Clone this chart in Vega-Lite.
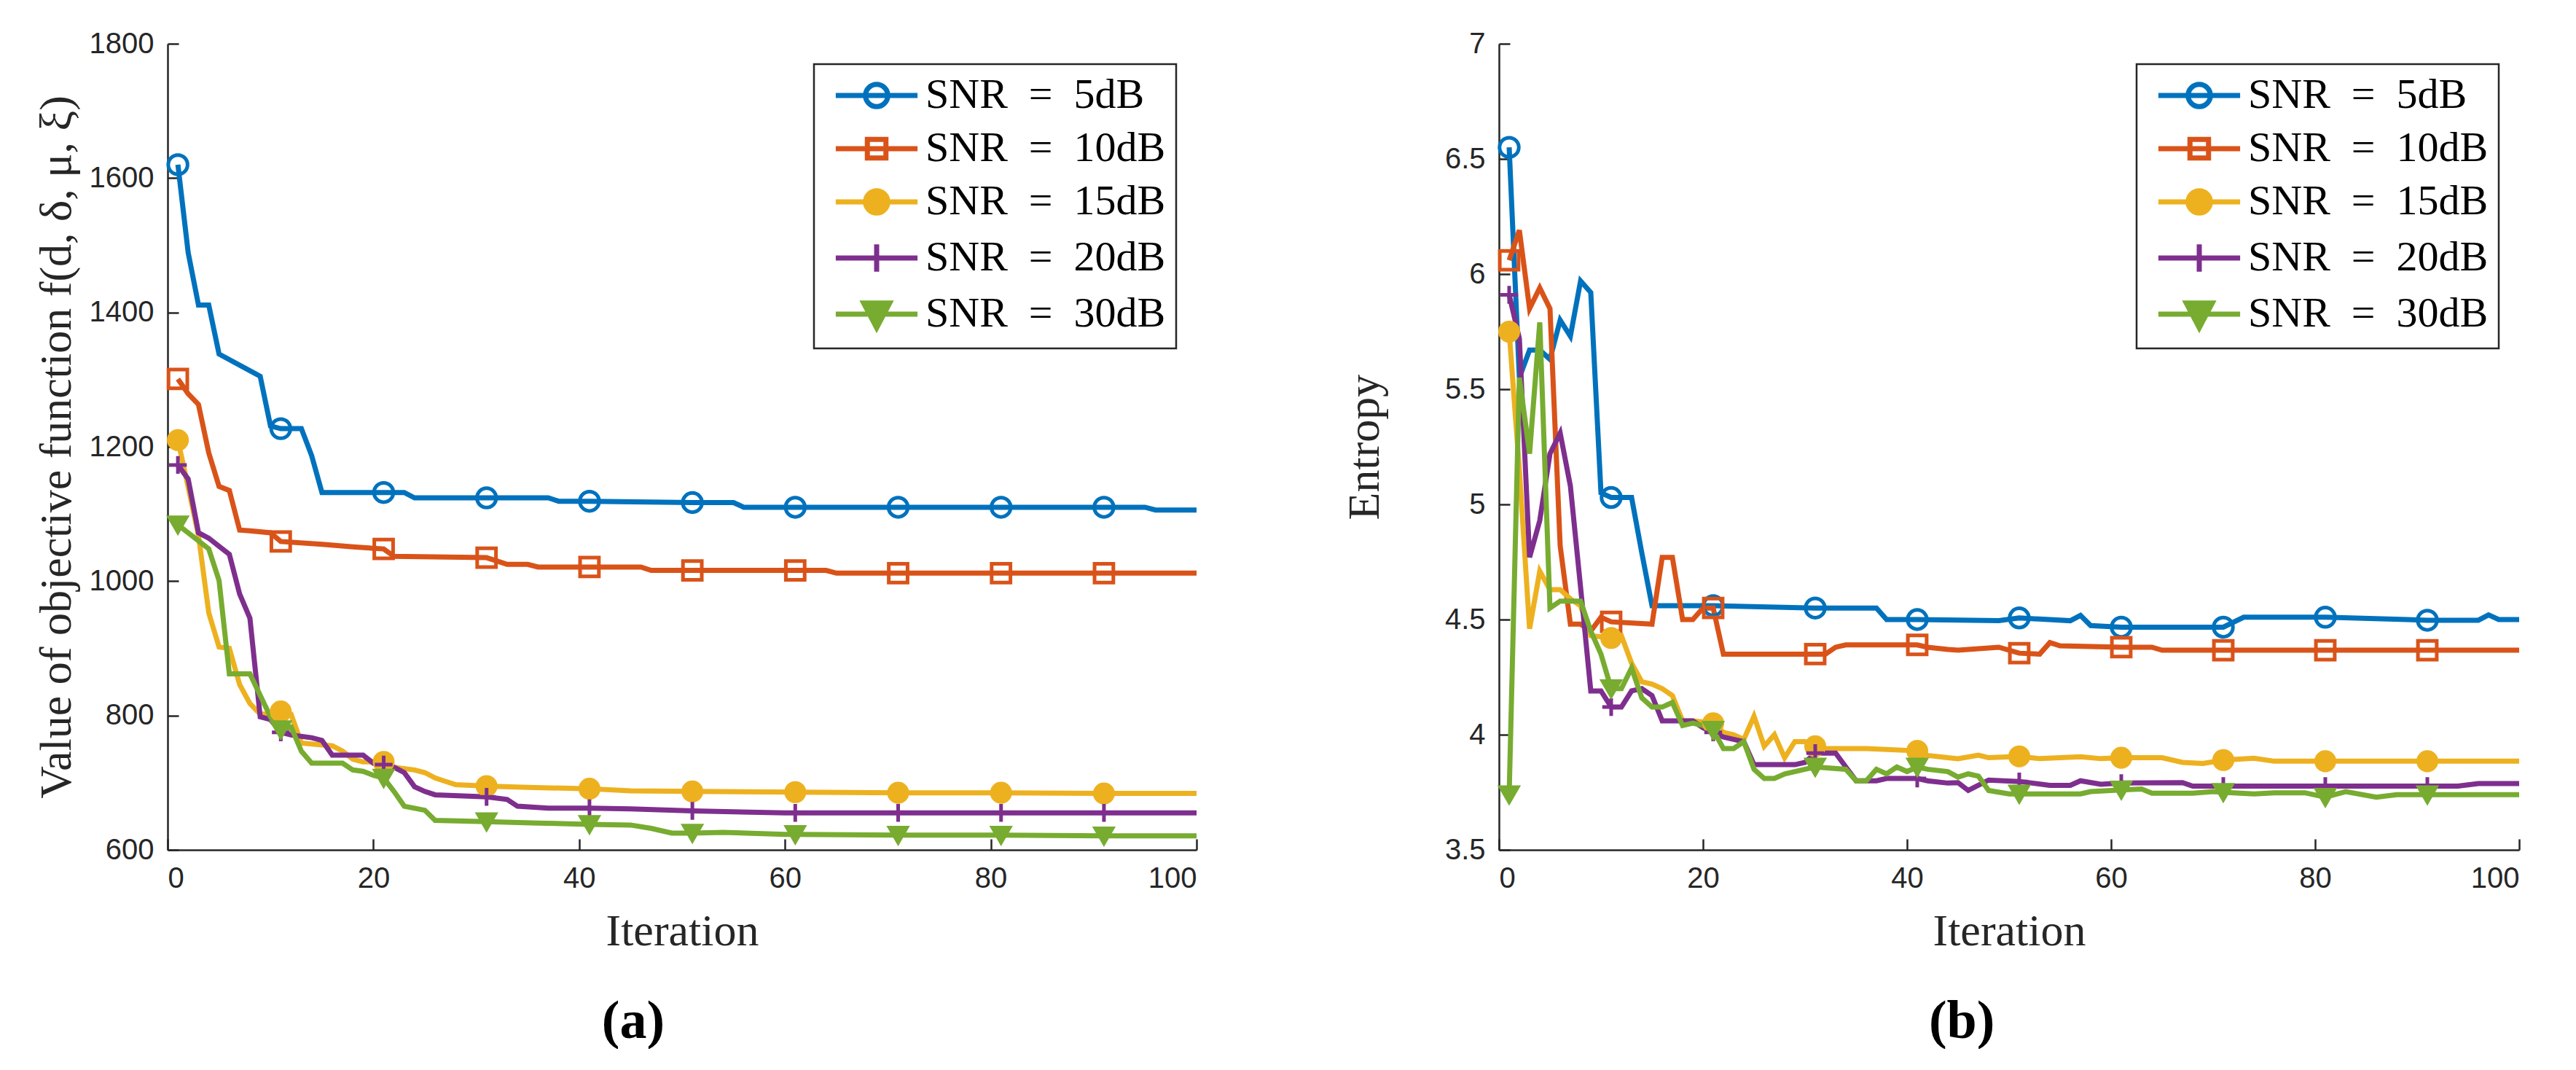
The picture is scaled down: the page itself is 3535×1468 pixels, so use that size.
{
  "$schema": "https://vega.github.io/schema/vega-lite/v6.json",
  "background": "white",
  "padding": {"left": 46, "top": 40, "right": 0, "bottom": 0},
  "datasets": {
    "a": [
      {"s":"5dB","i":1,"v":1620},{"s":"5dB","i":2,"v":1489},{"s":"5dB","i":3,"v":1411},{"s":"5dB","i":4,"v":1411},{"s":"5dB","i":5,"v":1338},{"s":"5dB","i":9,"v":1305},{"s":"5dB","i":10,"v":1231},{"s":"5dB","i":11,"v":1227},{"s":"5dB","i":13,"v":1227},{"s":"5dB","i":14,"v":1187},{"s":"5dB","i":15,"v":1132},{"s":"5dB","i":21,"v":1132},{"s":"5dB","i":23,"v":1132},{"s":"5dB","i":24,"v":1124},{"s":"5dB","i":31,"v":1124},{"s":"5dB","i":37,"v":1124},{"s":"5dB","i":38,"v":1119},{"s":"5dB","i":41,"v":1119},{"s":"5dB","i":51,"v":1117},{"s":"5dB","i":55,"v":1117},{"s":"5dB","i":56,"v":1110},{"s":"5dB","i":61,"v":1110},{"s":"5dB","i":71,"v":1110},{"s":"5dB","i":81,"v":1110},{"s":"5dB","i":91,"v":1110},{"s":"5dB","i":95,"v":1110},{"s":"5dB","i":96,"v":1106},{"s":"5dB","i":100,"v":1106},
      {"s":"10dB","i":1,"v":1301},{"s":"10dB","i":2,"v":1279},{"s":"10dB","i":3,"v":1263},{"s":"10dB","i":4,"v":1191},{"s":"10dB","i":5,"v":1141},{"s":"10dB","i":6,"v":1135},{"s":"10dB","i":7,"v":1076},{"s":"10dB","i":8,"v":1075},{"s":"10dB","i":10,"v":1072},{"s":"10dB","i":11,"v":1059},{"s":"10dB","i":15,"v":1055},{"s":"10dB","i":18,"v":1051},{"s":"10dB","i":21,"v":1048},{"s":"10dB","i":22,"v":1037},{"s":"10dB","i":31,"v":1035},{"s":"10dB","i":32,"v":1030},{"s":"10dB","i":33,"v":1025},{"s":"10dB","i":35,"v":1025},{"s":"10dB","i":36,"v":1021},{"s":"10dB","i":41,"v":1021},{"s":"10dB","i":46,"v":1021},{"s":"10dB","i":47,"v":1016},{"s":"10dB","i":51,"v":1016},{"s":"10dB","i":61,"v":1016},{"s":"10dB","i":64,"v":1016},{"s":"10dB","i":65,"v":1012},{"s":"10dB","i":71,"v":1012},{"s":"10dB","i":81,"v":1012},{"s":"10dB","i":91,"v":1012},{"s":"10dB","i":100,"v":1012},
      {"s":"15dB","i":1,"v":1210},{"s":"15dB","i":2,"v":1140},{"s":"15dB","i":3,"v":1068},{"s":"15dB","i":4,"v":953},{"s":"15dB","i":5,"v":902},{"s":"15dB","i":6,"v":900},{"s":"15dB","i":7,"v":846},{"s":"15dB","i":8,"v":818},{"s":"15dB","i":9,"v":802},{"s":"15dB","i":10,"v":802},{"s":"15dB","i":11,"v":806},{"s":"15dB","i":12,"v":802},{"s":"15dB","i":13,"v":759},{"s":"15dB","i":16,"v":755},{"s":"15dB","i":17,"v":747},{"s":"15dB","i":18,"v":735},{"s":"15dB","i":19,"v":731},{"s":"15dB","i":21,"v":731},{"s":"15dB","i":22,"v":723},{"s":"15dB","i":24,"v":719},{"s":"15dB","i":25,"v":715},{"s":"15dB","i":26,"v":707},{"s":"15dB","i":27,"v":702},{"s":"15dB","i":28,"v":697},{"s":"15dB","i":31,"v":695},{"s":"15dB","i":35,"v":693},{"s":"15dB","i":41,"v":691},{"s":"15dB","i":45,"v":688},{"s":"15dB","i":51,"v":687},{"s":"15dB","i":61,"v":686},{"s":"15dB","i":71,"v":685},{"s":"15dB","i":81,"v":685},{"s":"15dB","i":91,"v":684},{"s":"15dB","i":100,"v":684},
      {"s":"20dB","i":1,"v":1173},{"s":"20dB","i":2,"v":1152},{"s":"20dB","i":3,"v":1072},{"s":"20dB","i":4,"v":1064},{"s":"20dB","i":5,"v":1052},{"s":"20dB","i":6,"v":1040},{"s":"20dB","i":7,"v":981},{"s":"20dB","i":8,"v":945},{"s":"20dB","i":9,"v":798},{"s":"20dB","i":10,"v":794},{"s":"20dB","i":11,"v":775},{"s":"20dB","i":12,"v":771},{"s":"20dB","i":14,"v":767},{"s":"20dB","i":15,"v":763},{"s":"20dB","i":16,"v":741},{"s":"20dB","i":19,"v":741},{"s":"20dB","i":20,"v":729},{"s":"20dB","i":21,"v":727},{"s":"20dB","i":22,"v":723},{"s":"20dB","i":23,"v":715},{"s":"20dB","i":24,"v":694},{"s":"20dB","i":25,"v":687},{"s":"20dB","i":26,"v":682},{"s":"20dB","i":31,"v":679},{"s":"20dB","i":33,"v":675},{"s":"20dB","i":34,"v":665},{"s":"20dB","i":37,"v":662},{"s":"20dB","i":41,"v":662},{"s":"20dB","i":45,"v":661},{"s":"20dB","i":51,"v":658},{"s":"20dB","i":60,"v":655},{"s":"20dB","i":61,"v":655},{"s":"20dB","i":71,"v":655},{"s":"20dB","i":81,"v":655},{"s":"20dB","i":91,"v":655},{"s":"20dB","i":100,"v":655},
      {"s":"30dB","i":1,"v":1084},{"s":"30dB","i":2,"v":1072},{"s":"30dB","i":3,"v":1060},{"s":"30dB","i":4,"v":1048},{"s":"30dB","i":5,"v":1001},{"s":"30dB","i":6,"v":862},{"s":"30dB","i":8,"v":862},{"s":"30dB","i":9,"v":830},{"s":"30dB","i":10,"v":798},{"s":"30dB","i":11,"v":779},{"s":"30dB","i":12,"v":783},{"s":"30dB","i":13,"v":747},{"s":"30dB","i":14,"v":729},{"s":"30dB","i":17,"v":729},{"s":"30dB","i":18,"v":719},{"s":"30dB","i":19,"v":717},{"s":"30dB","i":20,"v":711},{"s":"30dB","i":21,"v":707},{"s":"30dB","i":22,"v":687},{"s":"30dB","i":23,"v":665},{"s":"30dB","i":24,"v":662},{"s":"30dB","i":25,"v":659},{"s":"30dB","i":26,"v":644},{"s":"30dB","i":31,"v":642},{"s":"30dB","i":36,"v":640},{"s":"30dB","i":41,"v":638},{"s":"30dB","i":45,"v":637},{"s":"30dB","i":47,"v":632},{"s":"30dB","i":49,"v":625},{"s":"30dB","i":51,"v":625},{"s":"30dB","i":54,"v":626},{"s":"30dB","i":60,"v":623},{"s":"30dB","i":61,"v":623},{"s":"30dB","i":71,"v":622},{"s":"30dB","i":81,"v":622},{"s":"30dB","i":91,"v":621},{"s":"30dB","i":100,"v":621}
    ],
    "b": [
      {"s":"5dB","i":1,"v":6.55},{"s":"5dB","i":2,"v":5.55},{"s":"5dB","i":3,"v":5.67},{"s":"5dB","i":4,"v":5.67},{"s":"5dB","i":5,"v":5.63},{"s":"5dB","i":6,"v":5.8},{"s":"5dB","i":7,"v":5.73},{"s":"5dB","i":8,"v":5.97},{"s":"5dB","i":9,"v":5.92},{"s":"5dB","i":10,"v":5.05},{"s":"5dB","i":11,"v":5.03},{"s":"5dB","i":13,"v":5.03},{"s":"5dB","i":14,"v":4.79},{"s":"5dB","i":15,"v":4.56},{"s":"5dB","i":21,"v":4.56},{"s":"5dB","i":31,"v":4.55},{"s":"5dB","i":37,"v":4.55},{"s":"5dB","i":38,"v":4.5},{"s":"5dB","i":41,"v":4.5},{"s":"5dB","i":49,"v":4.495},{"s":"5dB","i":51,"v":4.507},{"s":"5dB","i":56,"v":4.495},{"s":"5dB","i":57,"v":4.518},{"s":"5dB","i":58,"v":4.474},{"s":"5dB","i":61,"v":4.467},{"s":"5dB","i":71,"v":4.467},{"s":"5dB","i":73,"v":4.51},{"s":"5dB","i":81,"v":4.51},{"s":"5dB","i":89,"v":4.5},{"s":"5dB","i":91,"v":4.497},{"s":"5dB","i":96,"v":4.497},{"s":"5dB","i":97,"v":4.52},{"s":"5dB","i":98,"v":4.5},{"s":"5dB","i":100,"v":4.5},
      {"s":"10dB","i":1,"v":6.06},{"s":"10dB","i":2,"v":6.19},{"s":"10dB","i":3,"v":5.85},{"s":"10dB","i":4,"v":5.94},{"s":"10dB","i":5,"v":5.85},{"s":"10dB","i":6,"v":4.82},{"s":"10dB","i":7,"v":4.48},{"s":"10dB","i":8,"v":4.48},{"s":"10dB","i":9,"v":4.45},{"s":"10dB","i":10,"v":4.51},{"s":"10dB","i":11,"v":4.49},{"s":"10dB","i":15,"v":4.48},{"s":"10dB","i":16,"v":4.77},{"s":"10dB","i":17,"v":4.77},{"s":"10dB","i":18,"v":4.5},{"s":"10dB","i":19,"v":4.5},{"s":"10dB","i":20,"v":4.55},{"s":"10dB","i":21,"v":4.55},{"s":"10dB","i":22,"v":4.35},{"s":"10dB","i":31,"v":4.35},{"s":"10dB","i":32,"v":4.35},{"s":"10dB","i":33,"v":4.38},{"s":"10dB","i":34,"v":4.39},{"s":"10dB","i":41,"v":4.39},{"s":"10dB","i":42,"v":4.38},{"s":"10dB","i":44,"v":4.37},{"s":"10dB","i":45,"v":4.367},{"s":"10dB","i":49,"v":4.38},{"s":"10dB","i":51,"v":4.354},{"s":"10dB","i":53,"v":4.35},{"s":"10dB","i":54,"v":4.4},{"s":"10dB","i":55,"v":4.386},{"s":"10dB","i":61,"v":4.38},{"s":"10dB","i":64,"v":4.38},{"s":"10dB","i":65,"v":4.367},{"s":"10dB","i":71,"v":4.367},{"s":"10dB","i":81,"v":4.367},{"s":"10dB","i":91,"v":4.367},{"s":"10dB","i":100,"v":4.367},
      {"s":"15dB","i":1,"v":5.75},{"s":"15dB","i":2,"v":5.15},{"s":"15dB","i":3,"v":4.46},{"s":"15dB","i":4,"v":4.71},{"s":"15dB","i":5,"v":4.63},{"s":"15dB","i":6,"v":4.63},{"s":"15dB","i":7,"v":4.59},{"s":"15dB","i":8,"v":4.56},{"s":"15dB","i":9,"v":4.43},{"s":"15dB","i":11,"v":4.42},{"s":"15dB","i":12,"v":4.43},{"s":"15dB","i":13,"v":4.31},{"s":"15dB","i":14,"v":4.23},{"s":"15dB","i":15,"v":4.22},{"s":"15dB","i":16,"v":4.2},{"s":"15dB","i":17,"v":4.17},{"s":"15dB","i":18,"v":4.06},{"s":"15dB","i":19,"v":4.06},{"s":"15dB","i":21,"v":4.05},{"s":"15dB","i":22,"v":4.01},{"s":"15dB","i":23,"v":4.0},{"s":"15dB","i":24,"v":3.98},{"s":"15dB","i":25,"v":4.08},{"s":"15dB","i":26,"v":3.95},{"s":"15dB","i":27,"v":4.0},{"s":"15dB","i":28,"v":3.9},{"s":"15dB","i":29,"v":3.97},{"s":"15dB","i":30,"v":3.97},{"s":"15dB","i":31,"v":3.95},{"s":"15dB","i":32,"v":3.94},{"s":"15dB","i":36,"v":3.94},{"s":"15dB","i":41,"v":3.93},{"s":"15dB","i":42,"v":3.91},{"s":"15dB","i":44,"v":3.9},{"s":"15dB","i":45,"v":3.896},{"s":"15dB","i":47,"v":3.911},{"s":"15dB","i":48,"v":3.9},{"s":"15dB","i":51,"v":3.906},{"s":"15dB","i":53,"v":3.896},{"s":"15dB","i":57,"v":3.904},{"s":"15dB","i":59,"v":3.896},{"s":"15dB","i":61,"v":3.9},{"s":"15dB","i":65,"v":3.9},{"s":"15dB","i":67,"v":3.88},{"s":"15dB","i":69,"v":3.875},{"s":"15dB","i":71,"v":3.89},{"s":"15dB","i":74,"v":3.898},{"s":"15dB","i":76,"v":3.885},{"s":"15dB","i":81,"v":3.885},{"s":"15dB","i":91,"v":3.885},{"s":"15dB","i":100,"v":3.885},
      {"s":"20dB","i":1,"v":5.91},{"s":"20dB","i":2,"v":5.72},{"s":"20dB","i":3,"v":4.77},{"s":"20dB","i":4,"v":4.93},{"s":"20dB","i":5,"v":5.22},{"s":"20dB","i":6,"v":5.31},{"s":"20dB","i":7,"v":5.08},{"s":"20dB","i":8,"v":4.64},{"s":"20dB","i":9,"v":4.19},{"s":"20dB","i":10,"v":4.19},{"s":"20dB","i":11,"v":4.12},{"s":"20dB","i":12,"v":4.12},{"s":"20dB","i":13,"v":4.19},{"s":"20dB","i":14,"v":4.2},{"s":"20dB","i":15,"v":4.17},{"s":"20dB","i":16,"v":4.06},{"s":"20dB","i":19,"v":4.06},{"s":"20dB","i":20,"v":4.03},{"s":"20dB","i":21,"v":4.01},{"s":"20dB","i":22,"v":3.99},{"s":"20dB","i":23,"v":3.98},{"s":"20dB","i":24,"v":3.97},{"s":"20dB","i":25,"v":3.87},{"s":"20dB","i":29,"v":3.87},{"s":"20dB","i":30,"v":3.88},{"s":"20dB","i":31,"v":3.92},{"s":"20dB","i":33,"v":3.92},{"s":"20dB","i":34,"v":3.86},{"s":"20dB","i":35,"v":3.8},{"s":"20dB","i":37,"v":3.8},{"s":"20dB","i":38,"v":3.81},{"s":"20dB","i":41,"v":3.81},{"s":"20dB","i":42,"v":3.8},{"s":"20dB","i":44,"v":3.79},{"s":"20dB","i":45,"v":3.792},{"s":"20dB","i":46,"v":3.758},{"s":"20dB","i":48,"v":3.803},{"s":"20dB","i":51,"v":3.797},{"s":"20dB","i":54,"v":3.78},{"s":"20dB","i":56,"v":3.78},{"s":"20dB","i":57,"v":3.8},{"s":"20dB","i":59,"v":3.785},{"s":"20dB","i":61,"v":3.79},{"s":"20dB","i":67,"v":3.792},{"s":"20dB","i":68,"v":3.777},{"s":"20dB","i":71,"v":3.777},{"s":"20dB","i":81,"v":3.777},{"s":"20dB","i":91,"v":3.777},{"s":"20dB","i":94,"v":3.777},{"s":"20dB","i":96,"v":3.788},{"s":"20dB","i":100,"v":3.788},
      {"s":"30dB","i":1,"v":3.74},{"s":"30dB","i":2,"v":5.55},{"s":"30dB","i":3,"v":5.22},{"s":"30dB","i":4,"v":5.79},{"s":"30dB","i":5,"v":4.55},{"s":"30dB","i":6,"v":4.58},{"s":"30dB","i":8,"v":4.58},{"s":"30dB","i":9,"v":4.45},{"s":"30dB","i":10,"v":4.35},{"s":"30dB","i":11,"v":4.2},{"s":"30dB","i":12,"v":4.2},{"s":"30dB","i":13,"v":4.29},{"s":"30dB","i":14,"v":4.16},{"s":"30dB","i":15,"v":4.12},{"s":"30dB","i":16,"v":4.12},{"s":"30dB","i":17,"v":4.14},{"s":"30dB","i":18,"v":4.04},{"s":"30dB","i":19,"v":4.05},{"s":"30dB","i":20,"v":4.04},{"s":"30dB","i":21,"v":4.02},{"s":"30dB","i":22,"v":3.94},{"s":"30dB","i":23,"v":3.94},{"s":"30dB","i":24,"v":3.97},{"s":"30dB","i":25,"v":3.85},{"s":"30dB","i":26,"v":3.81},{"s":"30dB","i":27,"v":3.81},{"s":"30dB","i":28,"v":3.83},{"s":"30dB","i":29,"v":3.84},{"s":"30dB","i":30,"v":3.85},{"s":"30dB","i":31,"v":3.86},{"s":"30dB","i":34,"v":3.85},{"s":"30dB","i":35,"v":3.8},{"s":"30dB","i":36,"v":3.8},{"s":"30dB","i":37,"v":3.85},{"s":"30dB","i":38,"v":3.83},{"s":"30dB","i":39,"v":3.86},{"s":"30dB","i":40,"v":3.84},{"s":"30dB","i":41,"v":3.86},{"s":"30dB","i":42,"v":3.85},{"s":"30dB","i":44,"v":3.84},{"s":"30dB","i":45,"v":3.816},{"s":"30dB","i":46,"v":3.83},{"s":"30dB","i":47,"v":3.82},{"s":"30dB","i":48,"v":3.758},{"s":"30dB","i":50,"v":3.743},{"s":"30dB","i":51,"v":3.743},{"s":"30dB","i":57,"v":3.743},{"s":"30dB","i":58,"v":3.753},{"s":"30dB","i":61,"v":3.76},{"s":"30dB","i":63,"v":3.764},{"s":"30dB","i":64,"v":3.746},{"s":"30dB","i":68,"v":3.746},{"s":"30dB","i":70,"v":3.753},{"s":"30dB","i":71,"v":3.75},{"s":"30dB","i":74,"v":3.743},{"s":"30dB","i":76,"v":3.748},{"s":"30dB","i":79,"v":3.748},{"s":"30dB","i":81,"v":3.729},{"s":"30dB","i":83,"v":3.753},{"s":"30dB","i":86,"v":3.729},{"s":"30dB","i":88,"v":3.74},{"s":"30dB","i":91,"v":3.74},{"s":"30dB","i":100,"v":3.74}
    ]
  },
  "config": {
    "view": {"stroke": null},
    "axis": {
      "grid": false,
      "domainColor": "#262626",
      "domainWidth": 2.5,
      "tickColor": "#262626",
      "tickWidth": 2.5,
      "tickSize": -15,
      "labelPadding": 34,
      "labelFont": "Liberation Sans",
      "labelFontSize": 40,
      "labelColor": "#262626",
      "titleFont": "Liberation Serif",
      "titleFontSize": 62,
      "titleFontWeight": "normal",
      "titleColor": "#262626"
    },
    "legend": {
      "orient": "top-right",
      "offset": 28,
      "title": null,
      "strokeColor": "#262626",
      "strokeWidth": 2.5,
      "fillColor": "white",
      "padding": 14,
      "labelFont": "Liberation Serif",
      "labelFontSize": 58,
      "labelColor": "black",
      "labelLimit": 700,
      "symbolSize": 1156,
      "symbolStrokeWidth": 7,
      "symbolOffset": 43,
      "labelOffset": 38,
      "rowPadding": 14
    },
    "title": {"font": "Liberation Serif", "fontSize": 74, "fontWeight": "bold", "color": "black"}
  },
  "spacing": 185,
  "resolve": {"legend": {"stroke": "independent"}},
  "hconcat": [
    {
      "width": 1412,
      "height": 1106,
      "data": {"name": "a"},
      "title": {"text": "(a)", "orient": "bottom", "frame": "bounds", "anchor": "middle", "offset": 58, "dx": 18},
      "encoding": {
        "x": {"field": "i", "type": "quantitative", "scale": {"domain": [0, 100], "nice": false}, "axis": {"values": [0, 20, 40, 60, 80, 100], "title": "Iteration", "titlePadding": 22}},
        "y": {"field": "v", "type": "quantitative", "scale": {"domain": [600, 1800], "nice": false, "zero": false}, "axis": {"values": [600, 800, 1000, 1200, 1400, 1600, 1800], "format": "d", "title": "Value of objective function f(d, δ, μ, ξ)", "titlePadding": 13}},
        "stroke": {
          "field": "s", "type": "nominal",
          "scale": {"domain": ["5dB", "10dB", "15dB", "20dB", "30dB"], "range": ["#0072BD", "#D95319", "#EDB120", "#7E2F8E", "#77AC30"]},
          "legend": {
            "labelExpr": "'SNR\u2002=\u2002' + datum.label + '\u2002'",
            "encode": {"symbols": {"update": {
              "shape": {"signal": "datum.value==='5dB'||datum.value==='15dB'?'M-3.3,0H3.3M0.9,0A0.9,0.9,0,1,1,-0.9,0A0.9,0.9,0,1,1,0.9,0Z':datum.value==='10dB'?'M-3.3,0H3.3M-0.75,-0.75H0.75V0.75H-0.75Z':datum.value==='20dB'?'M-3.3,0H3.3M0,-1.1V1.1':'M-3.3,0H3.3M-1.05,-0.9H1.05L0,1.1Z'"},
              "fill": {"signal": "datum.value==='15dB'?'#EDB120':datum.value==='30dB'?'#77AC30':'transparent'"},
              "stroke": {"signal": "datum.value==='5dB'?'#0072BD':datum.value==='10dB'?'#D95319':datum.value==='15dB'?'#EDB120':datum.value==='20dB'?'#7E2F8E':'#77AC30'"},
              "strokeWidth": {"value": 7},
              "opacity": {"value": 1}
            }}}
          }
        }
      },
      "layer": [
        {"mark": {"type": "line", "strokeWidth": 7}},
        {
          "transform": [{"filter": "datum.i % 10 == 1"}],
          "mark": {"type": "point", "strokeWidth": 5, "opacity": 1},
          "encoding": {
            "shape": {"field": "s", "type": "nominal", "legend": null, "scale": {"domain": ["5dB", "10dB", "15dB", "20dB", "30dB"], "range": ["circle", "square", "circle", "M-1,0H1M0,-1V1", "triangle-down"]}},
            "fill": {"field": "s", "type": "nominal", "legend": null, "scale": {"domain": ["5dB", "10dB", "15dB", "20dB", "30dB"], "range": ["transparent", "transparent", "#EDB120", "transparent", "#77AC30"]}},
            "size": {"field": "s", "type": "nominal", "legend": null, "scale": {"domain": ["5dB", "10dB", "15dB", "20dB", "30dB"], "range": [700, 560, 700, 1000, 1400]}}
          }
        }
      ]
    },
    {
      "width": 1400,
      "height": 1106,
      "data": {"name": "b"},
      "title": {"text": "(b)", "orient": "bottom", "frame": "bounds", "anchor": "middle", "offset": 58, "dx": 36},
      "encoding": {
        "x": {"field": "i", "type": "quantitative", "scale": {"domain": [0, 100], "nice": false}, "axis": {"values": [0, 20, 40, 60, 80, 100], "title": "Iteration", "titlePadding": 22}},
        "y": {"field": "v", "type": "quantitative", "scale": {"domain": [3.5, 7], "nice": false, "zero": false}, "axis": {"values": [3.5, 4, 4.5, 5, 5.5, 6, 6.5, 7], "format": ".1~f", "title": "Entropy", "titlePadding": 78}},
        "stroke": {
          "field": "s", "type": "nominal",
          "scale": {"domain": ["5dB", "10dB", "15dB", "20dB", "30dB"], "range": ["#0072BD", "#D95319", "#EDB120", "#7E2F8E", "#77AC30"]},
          "legend": {
            "labelExpr": "'SNR\u2002=\u2002' + datum.label + '\u2002'",
            "encode": {"symbols": {"update": {
              "shape": {"signal": "datum.value==='5dB'||datum.value==='15dB'?'M-3.3,0H3.3M0.9,0A0.9,0.9,0,1,1,-0.9,0A0.9,0.9,0,1,1,0.9,0Z':datum.value==='10dB'?'M-3.3,0H3.3M-0.75,-0.75H0.75V0.75H-0.75Z':datum.value==='20dB'?'M-3.3,0H3.3M0,-1.1V1.1':'M-3.3,0H3.3M-1.05,-0.9H1.05L0,1.1Z'"},
              "fill": {"signal": "datum.value==='15dB'?'#EDB120':datum.value==='30dB'?'#77AC30':'transparent'"},
              "stroke": {"signal": "datum.value==='5dB'?'#0072BD':datum.value==='10dB'?'#D95319':datum.value==='15dB'?'#EDB120':datum.value==='20dB'?'#7E2F8E':'#77AC30'"},
              "strokeWidth": {"value": 7},
              "opacity": {"value": 1}
            }}}
          }
        }
      },
      "layer": [
        {"mark": {"type": "line", "strokeWidth": 7}},
        {
          "transform": [{"filter": "datum.i % 10 == 1"}],
          "mark": {"type": "point", "strokeWidth": 5, "opacity": 1},
          "encoding": {
            "shape": {"field": "s", "type": "nominal", "legend": null, "scale": {"domain": ["5dB", "10dB", "15dB", "20dB", "30dB"], "range": ["circle", "square", "circle", "M-1,0H1M0,-1V1", "triangle-down"]}},
            "fill": {"field": "s", "type": "nominal", "legend": null, "scale": {"domain": ["5dB", "10dB", "15dB", "20dB", "30dB"], "range": ["transparent", "transparent", "#EDB120", "transparent", "#77AC30"]}},
            "size": {"field": "s", "type": "nominal", "legend": null, "scale": {"domain": ["5dB", "10dB", "15dB", "20dB", "30dB"], "range": [700, 560, 700, 1000, 1400]}}
          }
        }
      ]
    }
  ]
}
